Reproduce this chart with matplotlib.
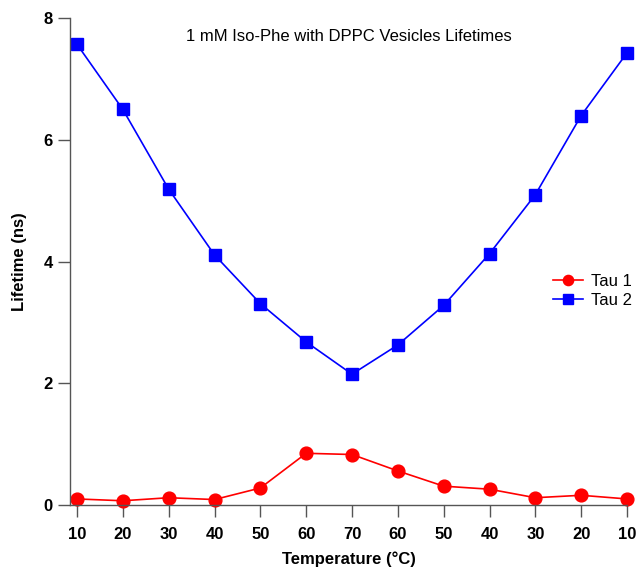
import matplotlib.pyplot as plt
import numpy as np

plt.rcParams['font.family'] = ['Liberation Sans', 'DejaVu Sans']

# Data
temp_labels = ['10', '20', '30', '40', '50', '60', '70', '60', '50', '40', '30', '20', '10']
tau1 = [0.10, 0.07, 0.12, 0.09, 0.28, 0.85, 0.83, 0.56, 0.31, 0.26, 0.12, 0.16, 0.10]
tau2 = [7.57, 6.50, 5.19, 4.11, 3.31, 2.68, 2.15, 2.63, 3.28, 4.13, 5.10, 6.40, 7.43]

x = np.arange(len(temp_labels))

fig = plt.figure(figsize=(6.38, 5.67), dpi=100)
ax = fig.add_axes([0.1097, 0.1093, 0.8731, 0.8587])

ax.plot(x, tau1, '-o', color='#ff0000', linewidth=1.2, markersize=9.2, label='Tau 1',
        clip_on=False)
ax.plot(x, tau2, '-s', color='#0000ff', linewidth=1.2, markersize=9.0, label='Tau 2',
        clip_on=False)

ax.set_xlim(-0.153, 12)
ax.set_ylim(0, 8)
ax.set_xticks(x)
ax.set_xticklabels(temp_labels)
ax.set_yticks([0, 2, 4, 6, 8])

for s in ['top', 'right']:
    ax.spines[s].set_visible(False)
for s in ['left', 'bottom']:
    ax.spines[s].set_color('#555555')
    ax.spines[s].set_linewidth(1.0)

ax.tick_params(axis='both', direction='out', length=8.5, width=1.0, color='#555555',
               labelsize=12)
ax.tick_params(axis='x', pad=7)
ax.tick_params(axis='y', pad=4)
for lbl in ax.get_xticklabels() + ax.get_yticklabels():
    lbl.set_fontweight('bold')

ax.set_xlabel('Temperature (°C)', fontsize=12, fontweight='bold', labelpad=7)
ax.set_ylabel('Lifetime (ns)', fontsize=12, fontweight='bold', labelpad=12)

ax.text(0.5, 0.962, '1 mM Iso-Phe with DPPC Vesicles Lifetimes', transform=ax.transAxes,
        ha='center', va='center', fontsize=12)

ax.legend(loc='center left', bbox_to_anchor=(0.852, 0.44), frameon=False, fontsize=12,
          handlelength=1.8, handletextpad=0.5, borderpad=0, labelspacing=0.25,
          markerscale=0.8)

plt.savefig('out.png', dpi=100)
